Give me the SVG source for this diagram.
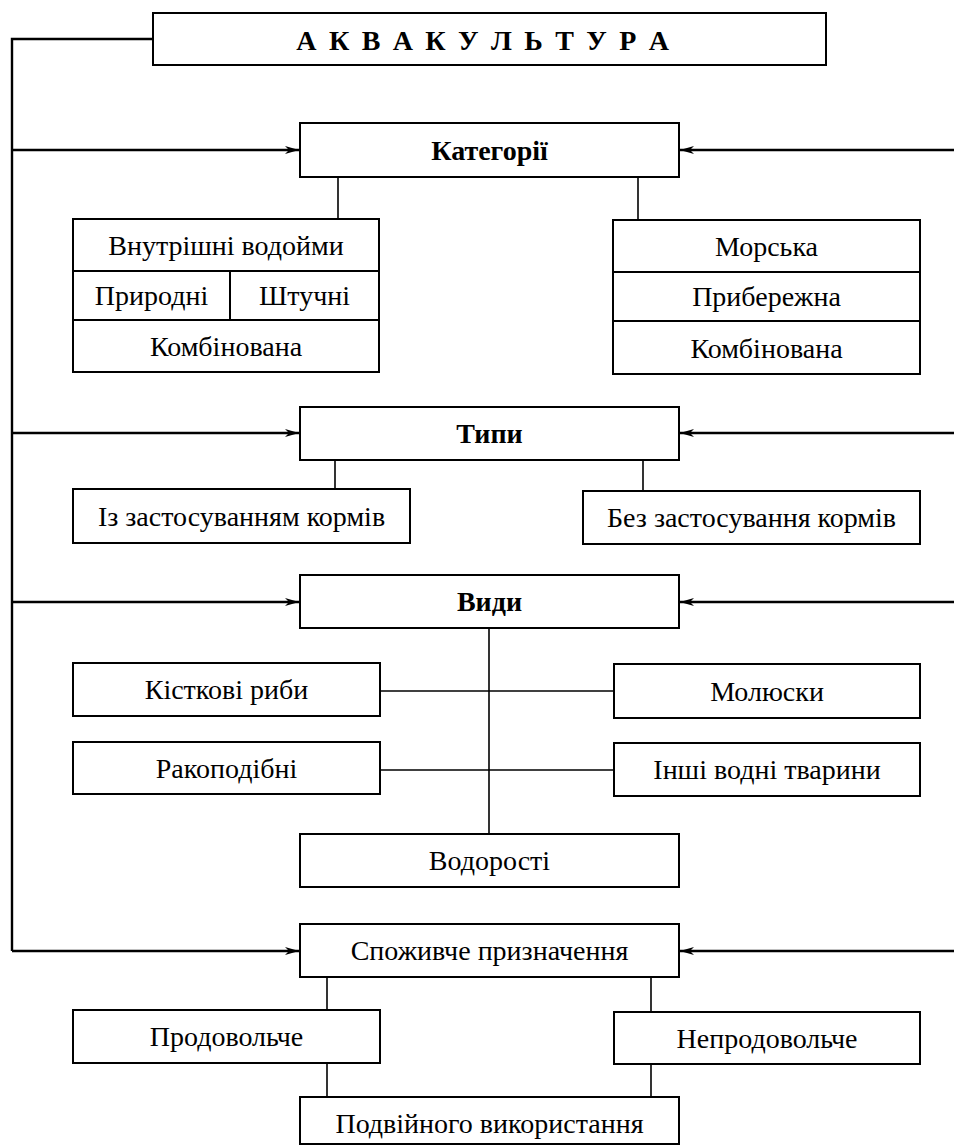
<svg xmlns="http://www.w3.org/2000/svg" width="954" height="1146" viewBox="0 0 954 1146">
  <style>
    .box { fill: #fff; stroke: #000; stroke-width: 2; }
    .div { fill: none; stroke: #000; stroke-width: 2; }
    .lbl { font-family: "Liberation Serif", "Times New Roman", serif; font-size: 28px; fill: #000; text-anchor: middle; }
    .b { font-weight: bold; }
    .wire { fill: none; stroke: #000; stroke-width: 1.6; }
    .feed { fill: none; stroke: #000; stroke-width: 2.4; }
  </style>
  <defs>
    <marker id="arr" viewBox="0 0 14 8" refX="14" refY="4" markerWidth="14" markerHeight="8" markerUnits="userSpaceOnUse" orient="auto">
      <path d="M0,0 L14,4 L0,8 L4,4 Z" fill="#000"/>
    </marker>
  </defs>

  <rect width="954" height="1146" fill="#fff"/>

  <!-- connectors -->
  <g id="connectors">
    <!-- root trunk on the left -->
    <path class="feed" d="M153,39 H12 V951"/>
    <!-- left feeds -->
    <path class="feed" d="M12,150 H299" marker-end="url(#arr)"/>
    <path class="feed" d="M12,433 H299" marker-end="url(#arr)"/>
    <path class="feed" d="M12,602 H299" marker-end="url(#arr)"/>
    <path class="feed" d="M12,951 H299" marker-end="url(#arr)"/>
    <!-- right feeds -->
    <path class="feed" d="M954,150 H680" marker-end="url(#arr)"/>
    <path class="feed" d="M954,433 H680" marker-end="url(#arr)"/>
    <path class="feed" d="M954,602 H680" marker-end="url(#arr)"/>
    <path class="feed" d="M954,951 H680" marker-end="url(#arr)"/>
    <!-- categories -->
    <path class="wire" d="M338,177 V219"/>
    <path class="wire" d="M638,177 V220"/>
    <!-- types -->
    <path class="wire" d="M335,460 V489"/>
    <path class="wire" d="M643,460 V491"/>
    <!-- kinds -->
    <path class="wire" d="M489,628 V834"/>
    <path class="wire" d="M380,691 H614"/>
    <path class="wire" d="M380,770 H614"/>
    <!-- purpose -->
    <path class="wire" d="M327,977 V1010"/>
    <path class="wire" d="M327,1063 V1097"/>
    <path class="wire" d="M651,977 V1012"/>
    <path class="wire" d="M651,1064 V1097"/>
  </g>

  <g id="root">
    <rect class="box" x="153" y="13" width="673" height="52"/>
    <text class="lbl b" x="484" y="50" style="letter-spacing:2.7px">А К В А К У Л Ь Т У Р А</text>
  </g>

  <g id="categories">
    <rect class="box" x="300" y="123" width="379" height="54"/>
    <text class="lbl b" x="489.5" y="160">Категорії</text>
  </g>

  <g id="inland">
    <rect class="box" x="73" y="219" width="306" height="153"/>
    <path class="div" d="M73,271 H379 M73,320 H379 M230,271 V320"/>
    <text class="lbl" x="226" y="255">Внутрішні водойми</text>
    <text class="lbl" x="151.5" y="305">Природні</text>
    <text class="lbl" x="304.5" y="305">Штучні</text>
    <text class="lbl" x="226" y="356">Комбінована</text>
  </g>

  <g id="marine">
    <rect class="box" x="613" y="220" width="307" height="154"/>
    <path class="div" d="M613,272 H920 M613,321 H920"/>
    <text class="lbl" x="766.5" y="256">Морська</text>
    <text class="lbl" x="766.5" y="306">Прибережна</text>
    <text class="lbl" x="766.5" y="358">Комбінована</text>
  </g>

  <g id="types">
    <rect class="box" x="300" y="407" width="379" height="53"/>
    <text class="lbl b" x="489.5" y="443">Типи</text>
  </g>

  <g id="with-feed">
    <rect class="box" x="73" y="489" width="337" height="54"/>
    <text class="lbl" x="241.5" y="526">Із застосуванням кормів</text>
  </g>

  <g id="without-feed">
    <rect class="box" x="583" y="491" width="337" height="53"/>
    <text class="lbl" x="751.5" y="527">Без застосування кормів</text>
  </g>

  <g id="kinds">
    <rect class="box" x="300" y="575" width="379" height="53"/>
    <text class="lbl b" x="489.5" y="611">Види</text>
  </g>

  <g id="bony-fish">
    <rect class="box" x="73" y="663" width="307" height="53"/>
    <text class="lbl" x="226.5" y="699">Кісткові риби</text>
  </g>

  <g id="molluscs">
    <rect class="box" x="614" y="664" width="306" height="54"/>
    <text class="lbl" x="767" y="701">Молюски</text>
  </g>

  <g id="crustaceans">
    <rect class="box" x="73" y="742" width="307" height="52"/>
    <text class="lbl" x="226.5" y="778">Ракоподібні</text>
  </g>

  <g id="other-animals">
    <rect class="box" x="614" y="743" width="306" height="53"/>
    <text class="lbl" x="767" y="779">Інші водні тварини</text>
  </g>

  <g id="algae">
    <rect class="box" x="300" y="834" width="379" height="53"/>
    <text class="lbl" x="489.5" y="870">Водорості</text>
  </g>

  <g id="purpose">
    <rect class="box" x="300" y="924" width="379" height="53"/>
    <text class="lbl" x="489.5" y="960">Споживче призначення</text>
  </g>

  <g id="food">
    <rect class="box" x="73" y="1010" width="307" height="53"/>
    <text class="lbl" x="226.5" y="1046">Продовольче</text>
  </g>

  <g id="non-food">
    <rect class="box" x="614" y="1012" width="306" height="52"/>
    <text class="lbl" x="767" y="1048">Непродовольче</text>
  </g>

  <g id="dual-use">
    <rect class="box" x="300" y="1097" width="379" height="47"/>
    <text class="lbl" x="489.5" y="1133">Подвійного використання</text>
  </g>
</svg>
